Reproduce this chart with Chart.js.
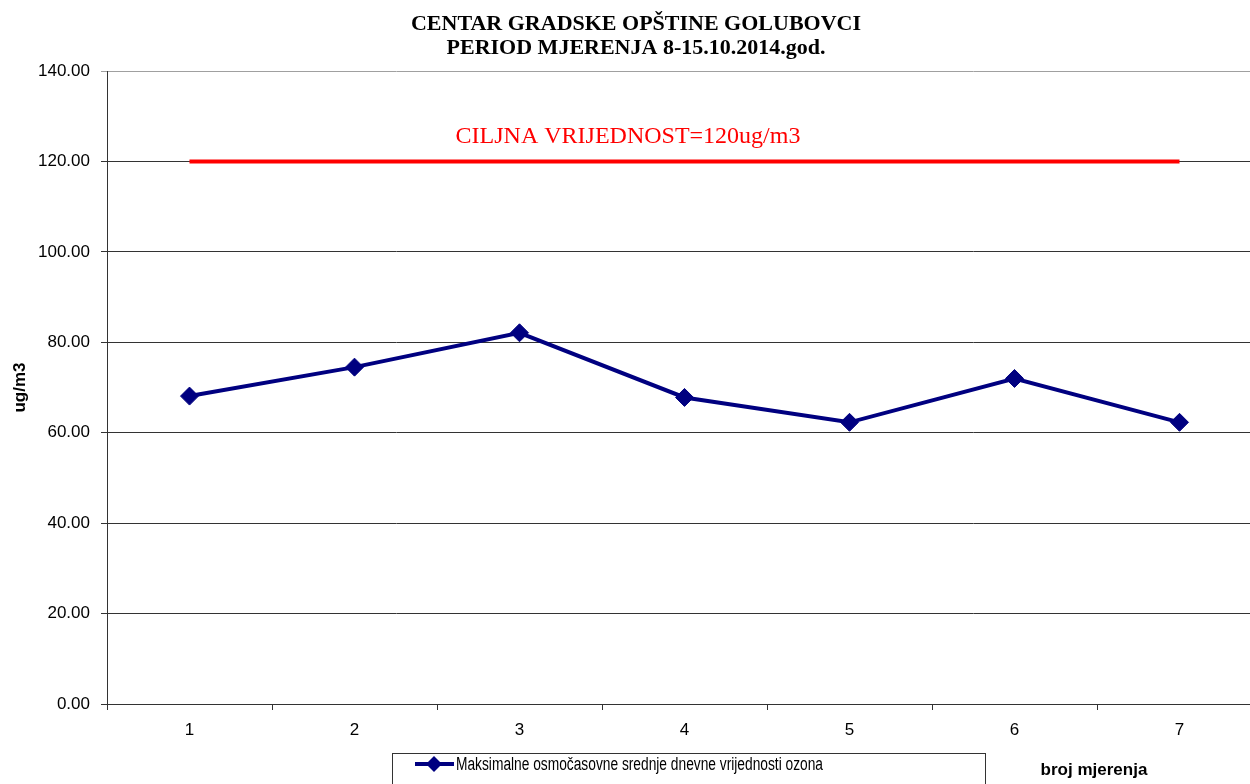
<!DOCTYPE html>
<html>
<head>
<meta charset="utf-8">
<script src="https://cdn.jsdelivr.net/npm/chart.js@4.4.0/dist/chart.umd.min.js"></script>
<style>
  html, body { margin: 0; background: #fff; overflow: hidden; }
  canvas { display: block; }
</style>
</head>
<body>
<!-- plot area runs a little past the right edge of the picture, so the canvas is wider than the window -->
<canvas id="myChart" width="1262" height="784"></canvas>
<script>
// data
var titleLines = ['CENTAR GRADSKE OPŠTINE GOLUBOVCI', 'PERIOD MJERENJA 8-15.10.2014.god.'];
var mjerenja = ['1', '2', '3', '4', '5', '6', '7'];
var ozon = [68.1, 74.5, 82.1, 67.8, 62.3, 72.0, 62.3];
var ciljna = [120, 120, 120, 120, 120, 120, 120];
var seriesLabel = 'Maksimalne osmočasovne srednje dnevne vrijednosti ozona';
var targetLabel = 'CILJNA VRIJEDNOST=120ug/m3';
var yTitle = 'ug/m3';
var xTitle = 'broj mjerenja';

var navy = '#000080';
var sans = '"Liberation Sans", Arial, sans-serif';
var serif = '"Liberation Serif", "Times New Roman", serif';

// titles, red label, x title and legend box drawn by hand
var extras = {
  id: 'extras',
  afterDraw: function(chart) {
    var ctx = chart.ctx;
    ctx.save();
    ctx.textAlign = 'center';
    ctx.textBaseline = 'alphabetic';
    ctx.fillStyle = '#000';
    ctx.font = 'bold 22px ' + serif;
    ctx.fillText(titleLines[0], 636, 30);
    ctx.fillText(titleLines[1], 636, 54);

    ctx.fillStyle = '#ff0000';
    ctx.font = '24px ' + serif;
    ctx.fillText(targetLabel, 628, 143);

    ctx.fillStyle = '#000';
    ctx.font = 'bold 17px ' + sans;
    ctx.fillText(xTitle, 1094, 775);

    // legend
    ctx.strokeStyle = '#333';
    ctx.lineWidth = 1;
    ctx.strokeRect(392.5, 753.5, 593, 40);
    ctx.strokeStyle = navy;
    ctx.lineWidth = 4;
    ctx.beginPath();
    ctx.moveTo(415, 764);
    ctx.lineTo(454, 764);
    ctx.stroke();
    ctx.fillStyle = navy;
    ctx.beginPath();
    ctx.moveTo(434, 756); ctx.lineTo(442, 764); ctx.lineTo(434, 772); ctx.lineTo(426, 764);
    ctx.closePath();
    ctx.fill();
    // legend text is condensed in the original: squeeze it to its width
    ctx.fillStyle = '#000';
    ctx.textAlign = 'left';
    ctx.textBaseline = 'middle';
    ctx.font = '18px ' + sans;
    var w = ctx.measureText(seriesLabel).width;
    ctx.translate(456, 765);
    ctx.scale(367 / w, 1);
    ctx.fillText(seriesLabel, 0, 0);
    ctx.restore();
  }
};

var ctx = document.getElementById('myChart').getContext('2d');
var chart = new Chart(ctx, {
  type: 'line',
  data: {
    labels: mjerenja,
    datasets: [{
      label: seriesLabel,
      data: ozon,
      borderColor: navy,
      backgroundColor: navy,
      borderWidth: 4,
      pointStyle: 'rectRot',
      pointRadius: 9,
      pointBorderWidth: 1,
      tension: 0
    }, {
      label: targetLabel,
      data: ciljna,
      borderColor: '#ff0000',
      borderWidth: 4,
      pointRadius: 0,
      tension: 0
    }]
  },
  options: {
    responsive: false,
    animation: false,
    devicePixelRatio: 1,
    layout: { autoPadding: false, padding: { top: 71, left: 0, right: 0, bottom: 0 } },
    plugins: {
      legend: { display: false },
      title: { display: false },
      tooltip: { enabled: false }
    },
    scales: {
      x: {
        offset: true,
        grid: { offset: true, drawOnChartArea: false, tickLength: 6, color: '#333' },
        border: { color: '#333', width: 1 },
        ticks: { color: '#000', font: { family: sans, size: 17 }, padding: 10 },
        afterFit: function(s) { s.height = 80; }
      },
      y: {
        min: 0,
        max: 140,
        grid: {
          tickLength: 6,
          color: function(c) { return c.tick && c.tick.value === 140 ? '#a0a0a0' : '#333'; }
        },
        border: { color: '#333', width: 1 },
        ticks: {
          stepSize: 20,
          color: '#000',
          padding: 11,
          font: { family: sans, size: 17 },
          callback: function(v) { return v.toFixed(2); }
        },
        title: {
          display: true,
          text: yTitle,
          color: '#000',
          font: { family: sans, size: 17, weight: 'bold' },
          padding: { top: 10, bottom: 0 }
        },
        afterFit: function(s) { s.width = 107; }
      }
    }
  },
  plugins: [extras]
});
</script>
</body>
</html>
